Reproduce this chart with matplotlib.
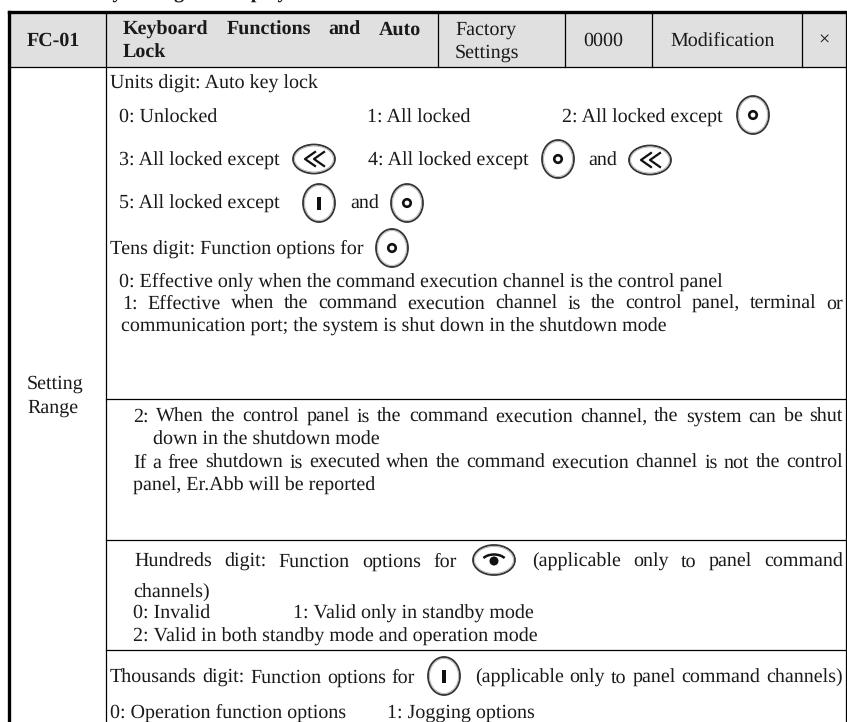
from matplotlib import pyplot as plt
from matplotlib.patches import Ellipse, Rectangle, Arc

plt.rcParams["text.hinting"] = "none"
plt.rcParams["text.hinting_factor"] = 1

top_line = "Key setting and display"
header_left = ["FC-01"]
header_title = ["Keyboard Functions and Auto", "Lock"]
header_factory = ["Factory", "Settings"]
header_value = "0000"
header_mod = "Modification"
header_mark = "\u00d7"
row_label = ["Setting", "Range"]

units_title = "Units digit: Auto key lock"
units_opts = ["0: Unlocked", "1: All locked", "2: All locked except",
              "3: All locked except", "4: All locked except", "and",
              "5: All locked except", "and"]
tens_title = "Tens digit: Function options for"
tens_opts = ["0: Effective only when the command execution channel is the control panel",
             "1: Effective when the command execution channel is the control panel, terminal or",
             "communication port; the system is shut down in the shutdown mode"]
tens_more = ["2: When the control panel is the command execution channel, the system can be shut",
             "down in the shutdown mode",
             "If a free shutdown is executed when the command execution channel is not the control",
             "panel, Er.Abb will be reported"]
hund_title = ["Hundreds digit: Function options for", "(applicable only to panel command", "channels)"]
hund_opts = ["0: Invalid", "1: Valid only in standby mode", "2: Valid in both standby mode and operation mode"]
thou_title = ["Thousands digit: Function options for", "(applicable only to panel command channels)"]
thou_opts = ["0: Operation function options", "1: Jogging options"]

FS = 14.3
FAM = "Liberation Serif"
INK = "#1a1a1a"

fig = plt.figure(figsize=(8.47, 7.22), dpi=100)
ax = fig.add_axes([0, 0, 1, 1])
ax.set_xlim(0, 847)
ax.set_ylim(722, 0)
ax.axis("off")


def put(x, y, s, **kw):
    kw.setdefault("fontsize", FS)
    return ax.text(x, y + 1, s, family=FAM, color=INK, va="baseline", **kw)


def justify(x0, x1, y, s, **kw):
    # stretch the gaps between the words so the line fills x0..x1
    words = s.split(" ")
    kw.setdefault("fontsize", FS)
    rend = fig.canvas.get_renderer()
    widths = []
    for w in words:
        t = put(0, 0, w, **kw)
        widths.append(t.get_window_extent(rend).width)
        t.remove()
    gap = (x1 - x0 - sum(widths)) / (len(words) - 1)
    x = x0
    for w, wd in zip(words, widths):
        put(x, y, w, **kw)
        x += wd + gap


def oval(x, y, w, h):
    ax.add_patch(Ellipse((x, y), w, h, fc="white", ec="#333333", lw=1.3))
    ax.add_patch(Ellipse((x, y), w - 3, h - 3, fc="none", ec="#aaaaaa", lw=0.6))


def key_run(x, y):
    oval(x, y, 32, 38)
    ax.add_patch(Ellipse((x, y), 7.5, 7.5, fc="white", ec="#111111", lw=1.9))


def key_stop(x, y):
    oval(x, y, 32, 38)
    ax.add_patch(Rectangle((x - 2, y - 6.5), 4, 13, fc="#111111", ec="none"))


def key_shift(x, y):
    oval(x, y, 42, 29)
    for dx in (-9, 0):
        ax.plot([x + dx + 10, x + dx, x + dx + 10], [y - 7, y, y + 7], color="#111111", lw=1.6)


def key_eye(x, y):
    oval(x, y, 42, 30)
    ax.add_patch(Ellipse((x, y + 1), 9, 9, fc="#111111", ec="none"))
    ax.add_patch(Arc((x, y + 3), 26, 17, theta1=205, theta2=335, color="#111111", lw=1.8))


# header band
ax.add_patch(Rectangle((9, 12), 838, 55, fc="#e0e0e0", ec="none"))
for xv in [105.5, 437.5, 564.5, 651.5, 801.5]:
    ax.plot([xv, xv], [12, 67], color="black", lw=0.9)
ax.plot([105.5, 105.5], [67, 722], color="black", lw=0.9)
ax.plot([9, 847], [67, 67], color="black", lw=0.9)
ax.plot([105.5, 847], [399, 399], color="black", lw=0.9)
ax.plot([105.5, 847], [540, 540], color="black", lw=0.9)
ax.plot([105.5, 847], [650, 650], color="black", lw=0.9)
ax.plot([8.5, 847], [12, 12], color="black", lw=2.4, solid_capstyle="projecting")
ax.plot([8.5, 8.5], [12, 722], color="black", lw=2.4)
ax.plot([846.3, 846.3], [12, 722], color="black", lw=0.9)

# line cut off by the page edge
put(88, -2, top_line, fontweight="bold", clip_on=True)

# header text
put(27, 45, header_left[0], fontweight="bold")
justify(123, 421, 34, header_title[0], fontweight="bold")
put(123, 57, header_title[1], fontweight="bold")
put(455, 34, header_factory[0])
put(455, 57, header_factory[1])
put(583, 45, header_value)
put(670, 45, header_mod)
put(824, 45, header_mark, ha="center")
put(27, 388, row_label[0])
put(27, 412, row_label[1])

# units digit
put(110, 88, units_title)
put(119, 122, units_opts[0])
put(367, 122, units_opts[1])
put(562, 122, units_opts[2])
key_run(753, 115)
put(119, 165, units_opts[3])
key_shift(314, 159)
put(368, 165, units_opts[4])
key_run(558, 159)
put(588, 165, units_opts[5])
key_shift(650, 160)
put(119, 208, units_opts[6])
key_stop(319, 203)
put(350, 208, units_opts[7])
key_run(407, 203)

# tens digit
put(110, 253, tens_title)
key_run(392, 248)
put(119, 286, tens_opts[0])
justify(122, 843, 308, tens_opts[1])
put(121, 331, tens_opts[2])
justify(133, 843, 421, tens_more[0])
put(153, 444, tens_more[1])
justify(133, 843, 467, tens_more[2])
put(133, 490, tens_more[3])

# hundreds digit
justify(134, 457, 566, hund_title[0])
key_eye(494, 560)
justify(532, 843, 566, hund_title[1])
put(133, 597, hund_title[2])
put(133, 618, hund_opts[0])
put(293, 618, hund_opts[1])
put(133, 641, hund_opts[2])

# thousands digit
justify(110, 415, 682, thou_title[0])
key_stop(444, 676)
justify(475, 843, 682, thou_title[1])
put(110, 717, thou_opts[0])
put(387, 717, thou_opts[1])

fig.savefig("out.png", dpi=100)
